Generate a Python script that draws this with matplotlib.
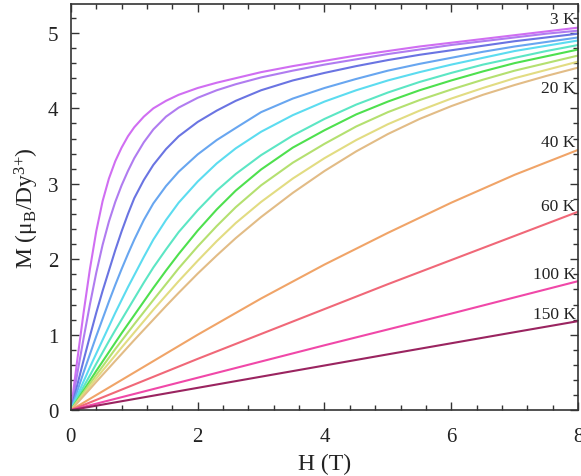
import matplotlib
matplotlib.use("Agg")
import matplotlib.pyplot as plt
from matplotlib.ticker import MultipleLocator

plt.rcParams['font.family'] = ['Liberation Serif', 'DejaVu Serif']
plt.rcParams['mathtext.fontset'] = 'custom'
plt.rcParams['mathtext.rm'] = 'Liberation Serif'

# Field grid (T) for the low-temperature curves
H_low = [0, 0.1, 0.2, 0.3, 0.4, 0.5, 0.6, 0.7, 0.8, 0.9, 1.0, 1.15, 1.3, 1.5, 1.7,
         2.0, 2.3, 2.6, 3.0, 3.5, 4.0, 4.5, 5.0, 5.5, 6.0, 6.5, 7.0, 7.5, 8.0]
# Field grid (T) for the high-temperature curves
H_high = [0, 1, 2, 3, 4, 5, 6, 7, 8]

M_3K  = [0, 0.66, 1.29, 1.87, 2.37, 2.77, 3.07, 3.30, 3.48, 3.63, 3.75, 3.89, 4.00, 4.10, 4.18,
         4.27, 4.34, 4.40, 4.48, 4.56, 4.63, 4.70, 4.76, 4.82, 4.87, 4.92, 4.97, 5.02, 5.07]
M_4K  = [0, 0.48, 0.95, 1.40, 1.82, 2.19, 2.50, 2.76, 2.98, 3.17, 3.34, 3.55, 3.72, 3.89, 4.01,
         4.14, 4.24, 4.32, 4.41, 4.50, 4.58, 4.65, 4.72, 4.78, 4.84, 4.89, 4.94, 4.99, 5.03]
M_5K  = [0, 0.33, 0.66, 0.98, 1.29, 1.58, 1.85, 2.12, 2.37, 2.60, 2.81, 3.05, 3.25, 3.46, 3.63,
         3.82, 3.97, 4.10, 4.24, 4.37, 4.47, 4.56, 4.64, 4.71, 4.77, 4.83, 4.89, 4.94, 4.99]
M_6K  = [0, 0.25, 0.50, 0.74, 0.98, 1.21, 1.44, 1.66, 1.87, 2.07, 2.26, 2.52, 2.74, 2.97, 3.16,
         3.39, 3.58, 3.74, 3.95, 4.13, 4.27, 4.39, 4.50, 4.59, 4.67, 4.75, 4.82, 4.88, 4.94]
M_8K  = [0, 0.19, 0.38, 0.57, 0.75, 0.93, 1.11, 1.29, 1.46, 1.63, 1.79, 2.03, 2.26, 2.52, 2.75,
         3.03, 3.27, 3.47, 3.69, 3.91, 4.09, 4.24, 4.37, 4.48, 4.58, 4.67, 4.76, 4.83, 4.90]
M_10K = [0, 0.155, 0.31, 0.46, 0.615, 0.765, 0.915, 1.06, 1.20, 1.34, 1.48, 1.69, 1.89, 2.13, 2.36,
         2.65, 2.91, 3.13, 3.38, 3.64, 3.86, 4.05, 4.21, 4.35, 4.47, 4.58, 4.67, 4.76, 4.84]
M_12K = [0, 0.13, 0.26, 0.39, 0.52, 0.645, 0.77, 0.895, 1.02, 1.14, 1.26, 1.44, 1.62, 1.85, 2.07,
         2.38, 2.66, 2.91, 3.19, 3.48, 3.71, 3.92, 4.09, 4.24, 4.37, 4.49, 4.60, 4.69, 4.78]
M_14K = [0, 0.117, 0.234, 0.35, 0.466, 0.58, 0.695, 0.81, 0.92, 1.03, 1.14, 1.30, 1.46, 1.67, 1.88,
         2.17, 2.44, 2.69, 2.98, 3.28, 3.53, 3.76, 3.95, 4.11, 4.25, 4.38, 4.50, 4.60, 4.70]
M_16K = [0, 0.105, 0.21, 0.315, 0.42, 0.523, 0.625, 0.727, 0.83, 0.93, 1.03, 1.18, 1.33, 1.52, 1.71,
         1.98, 2.24, 2.48, 2.76, 3.07, 3.34, 3.58, 3.79, 3.97, 4.13, 4.27, 4.40, 4.51, 4.62]
M_20K = [0, 0.094, 0.188, 0.28, 0.375, 0.468, 0.56, 0.653, 0.745, 0.838, 0.93, 1.065, 1.20, 1.38, 1.555,
         1.81, 2.05, 2.28, 2.56, 2.88, 3.17, 3.43, 3.66, 3.86, 4.03, 4.18, 4.31, 4.43, 4.54]

M_40K  = [0, 0.50, 1.00, 1.48, 1.93, 2.35, 2.75, 3.12, 3.45]
M_60K  = [0, 0.34, 0.68, 1.01, 1.34, 1.67, 1.99, 2.31, 2.63]
M_100K = [0, 0.215, 0.43, 0.645, 0.86, 1.07, 1.28, 1.495, 1.71]
M_150K = [0, 0.148, 0.296, 0.444, 0.592, 0.74, 0.887, 1.034, 1.18]

low_series = [M_3K, M_4K, M_5K, M_6K, M_8K, M_10K, M_12K, M_14K, M_16K, M_20K]
low_colors = ['#d06ef2', '#b07cf0', '#6a74e2', '#68a6f0', '#5cdcf0',
              '#5ce6c4', '#4ee04e', '#b4e070', '#e2dc82', '#e2bc86']
high_series = [M_40K, M_60K, M_100K, M_150K]
high_colors = ['#f0a468', '#f06878', '#f048a8', '#9a2460']

labels = ['3 K', '20 K', '40 K', '60 K', '100 K', '150 K']
label_y = [5.19, 4.27, 3.55, 2.71, 1.80, 1.27]

fig = plt.figure(figsize=(5.81, 4.77), dpi=100)
ax = fig.add_axes([0.122, 0.138, 0.873, 0.851])

for M, c in zip(low_series, low_colors):
    ax.plot(H_low, M, color=c, lw=1.5, solid_joinstyle='round')
for M, c in zip(high_series, high_colors):
    ax.plot(H_high, M, color=c, lw=1.5, solid_joinstyle='round')

for t, y in zip(labels, label_y):
    ax.text(7.96, y, t, ha='right', va='center', fontsize=12.5, color='#222222')

ax.set_xlim(0, 8)
ax.set_ylim(0, 5.38)
ax.xaxis.set_major_locator(MultipleLocator(2))
ax.xaxis.set_minor_locator(MultipleLocator(0.4))
ax.yaxis.set_major_locator(MultipleLocator(1))
ax.yaxis.set_minor_locator(MultipleLocator(0.2))
ax.tick_params(which='both', direction='in', top=True, right=True, colors='#333333',
               labelcolor='#222222', labelsize=15)
ax.tick_params(axis='x', which='major', pad=12)
ax.tick_params(axis='y', which='major', pad=9)
ax.tick_params(which='major', length=6, width=1.0)
ax.tick_params(which='minor', length=3.5, width=1.0)
for s in ax.spines.values():
    s.set_color('#333333')
    s.set_linewidth(1.2)

ax.set_xlabel('H (T)', fontsize=17, color='#222222', labelpad=5)
ax.set_ylabel(r'M (μ$\mathregular{_B}$/Dy$\mathregular{^{3{+}}}$)', fontsize=17, color='#222222', labelpad=5)

fig.savefig('out.png', dpi=100)
